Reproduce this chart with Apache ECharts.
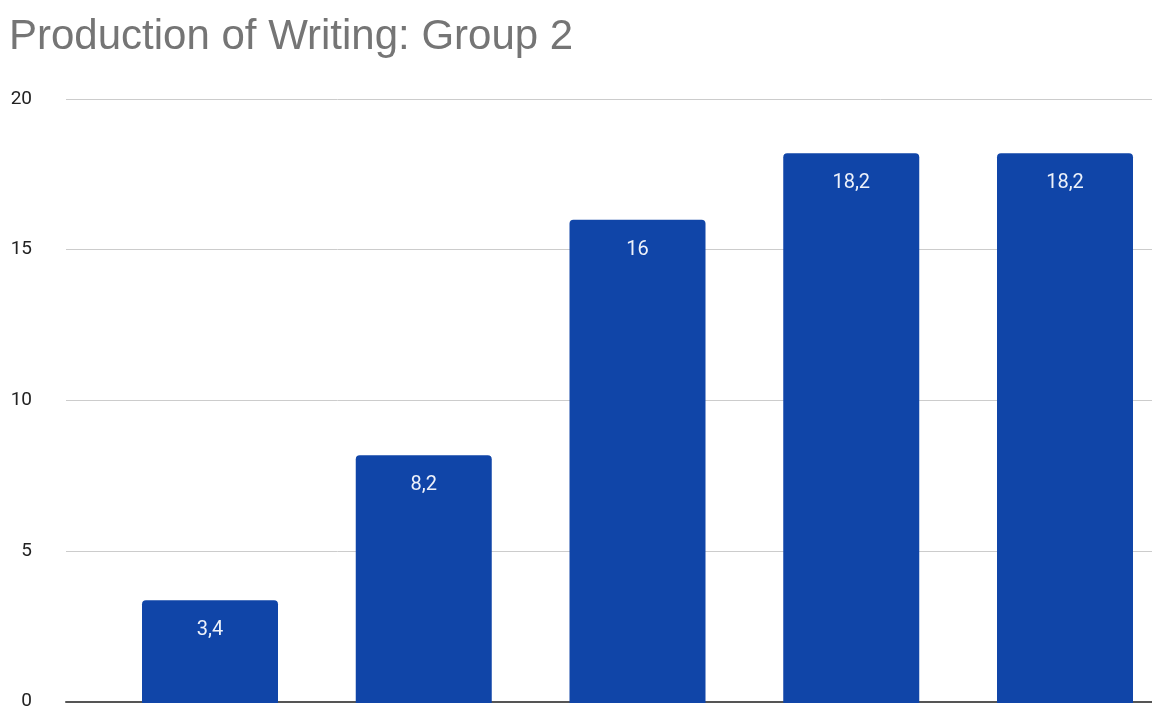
<!DOCTYPE html>
<html>
<head>
<meta charset="utf-8">
<style>
  html, body { margin: 0; padding: 0; background: #fff; }
  #chart { width: 1152px; height: 711px; }
</style>
<script src="https://cdn.jsdelivr.net/npm/echarts@6/dist/echarts.min.js"></script>
</head>
<body>
<div id="chart"></div>
<script>
// Chart data
const categories = ['1', '2', '3', '4', '5'];
const scores = [3.4, 8.2, 16, 18.2, 18.2];
const yTicks = { min: 0, max: 20, interval: 5 };

const chart = echarts.init(document.getElementById('chart'));

const gridTop = 99;
const gridBottom = 8;

chart.setOption({
  animation: false,
  backgroundColor: '#ffffff',
  title: {
    text: 'Production of Writing: Group 2',
    left: 4,
    top: 11,
    textStyle: {
      color: '#757575',
      fontFamily: 'Liberation Sans, Arial, sans-serif',
      fontSize: 42,
      fontWeight: 'normal'
    }
  },
  grid: [
    // frame with value axis, gridlines and baseline
    { left: 66, right: 0, top: gridTop, bottom: gridBottom },
    // bar centres run from the first to the last category position
    { left: 210, right: 87, top: gridTop, bottom: gridBottom }
  ],
  xAxis: [
    {
      gridIndex: 0,
      type: 'category',
      data: categories,
      axisLine: { show: true, lineStyle: { color: '#555555', width: 2 } },
      axisTick: { show: false },
      axisLabel: { show: false },
      splitLine: { show: false }
    },
    {
      gridIndex: 1,
      type: 'category',
      data: categories,
      boundaryGap: false,
      axisLine: { show: false },
      axisTick: { show: false },
      axisLabel: { show: false },
      splitLine: { show: false }
    }
  ],
  yAxis: [
    {
      gridIndex: 0,
      type: 'value',
      min: yTicks.min,
      max: yTicks.max,
      interval: yTicks.interval,
      axisLine: { show: false },
      axisTick: { show: false },
      axisLabel: {
        color: '#222222',
        fontFamily: 'Roboto, Arial, sans-serif',
        fontSize: 19,
        margin: 34,
        padding: [4, 0, 0, 0]
      },
      splitLine: { lineStyle: { color: '#cccccc', width: 1 } }
    },
    {
      gridIndex: 1,
      type: 'value',
      min: yTicks.min,
      max: yTicks.max,
      interval: yTicks.interval,
      show: false,
      splitLine: { show: false }
    }
  ],
  series: [
    {
      type: 'bar',
      xAxisIndex: 1,
      yAxisIndex: 1,
      data: scores,
      barWidth: 136,
      clip: false,
      itemStyle: { color: '#1045a8', borderRadius: [4, 4, 0, 0] },
      label: {
        show: true,
        position: 'insideTop',
        distance: 20,
        color: '#eef2fa',
        fontFamily: 'Roboto, Arial, sans-serif',
        fontSize: 20,
        formatter: p => String(p.value).replace('.', ',')
      }
    }
  ]
});
</script>
</body>
</html>
